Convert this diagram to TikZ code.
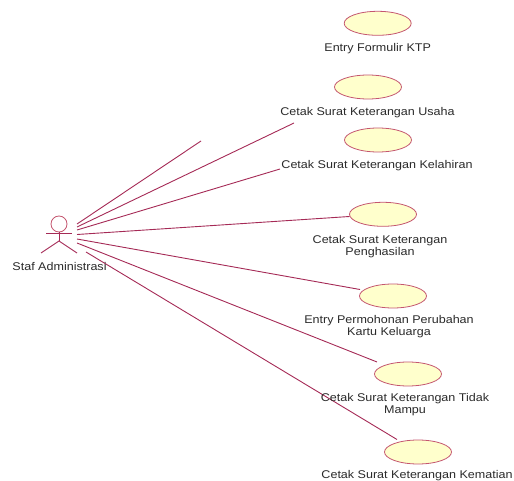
\documentclass[tikz,border=0pt]{standalone}
\usepackage{fontspec}
\setmainfont[FakeStretch=1.12]{Liberation Sans}
\usetikzlibrary{shapes.geometric}
\definecolor{umlline}{HTML}{A52A56}
\definecolor{umlfill}{HTML}{FFFFCC}
\definecolor{umledge}{HTML}{C4566F}
\definecolor{umltext}{HTML}{2A2A2A}
\tikzset{
  usecase/.style={ellipse,draw=umledge,fill=umlfill,line width=0.8pt,minimum width=67pt,minimum height=24pt,inner sep=0pt},
  umllabel/.style={text=umltext,font=\fontsize{11.2}{12}\selectfont,align=center,inner sep=0pt},
  assoc/.style={draw=umlline,line width=0.9pt},
  actorline/.style={draw=umlline,line width=0.9pt},
  actorhead/.style={circle,draw=umledge,line width=0.8pt,minimum size=16pt,inner sep=0pt}
}
\begin{document}
\begin{tikzpicture}[x=1pt,y=-1pt]
\useasboundingbox (0,0) rectangle (514,481);
% use cases
\node[usecase] (e1) at (377.7,23.3) {};
\node[usecase] (e2) at (368,87) {};
\node[usecase] (e3) at (378,140) {};
\node[usecase] (e4) at (383,214.3) {};
\node[usecase] (e5) at (393,296) {};
\node[usecase] (e6) at (408,374) {};
\node[usecase] (e7) at (418,452) {};
% actor
\node[actorhead] (head) at (59,224) {};
\coordinate (hip) at (59,241);
\coordinate (armL) at (46,233);
\coordinate (armR) at (72,233);
\coordinate (legL) at (41,253);
\coordinate (legR) at (77,253);
\draw[actorline] (head.south) -- (hip);
\draw[actorline] (armL) -- (armR);
\draw[actorline] (legL) -- (hip) -- (legR);
% association ends
\coordinate (s1) at (77,224);
\coordinate (s2) at (77,227);
\coordinate (s3) at (77,230);
\coordinate (s4) at (77,234.5);
\coordinate (s5) at (77,239);
\coordinate (s6) at (77,243);
\coordinate (s7) at (86,252);
\coordinate (t1) at (201,141);
\coordinate (t2) at (294,123);
\coordinate (t3) at (280,169);
\coordinate (t4) at (349.5,216.5);
\coordinate (t5) at (360,289.5);
\coordinate (t6) at (377,362);
\coordinate (t7) at (397,439.5);
\draw[assoc] (s1) -- (t1);
\draw[assoc] (s2) -- (t2);
\draw[assoc] (s3) -- (t3);
\draw[assoc] (s4) -- (t4);
\draw[assoc] (s5) -- (t5);
\draw[assoc] (s6) -- (t6);
\draw[assoc] (s7) -- (t7);
% labels
\node[umllabel] (a) at (59.5,266) {Staf Administrasi};
\node[umllabel] (l1) at (377.7,48.5) {Entry Formulir KTP};
\node[umllabel] (l2) at (367.5,112.5) {Cetak Surat Keterangan Usaha};
\node[umllabel] (l3) at (377,165.5) {Cetak Surat Keterangan Kelahiran};
\node[umllabel] (l4) at (380,246.5) {Cetak Surat Keterangan\\Penghasilan};
\node[umllabel] (l5) at (389,327) {Entry Permohonan Perubahan\\Kartu Keluarga};
\node[umllabel] (l6) at (405,405) {Cetak Surat Keterangan Tidak\\Mampu};
\node[umllabel] (l7) at (417,475.8) {Cetak Surat Keterangan Kematian};
\end{tikzpicture}
\end{document}
